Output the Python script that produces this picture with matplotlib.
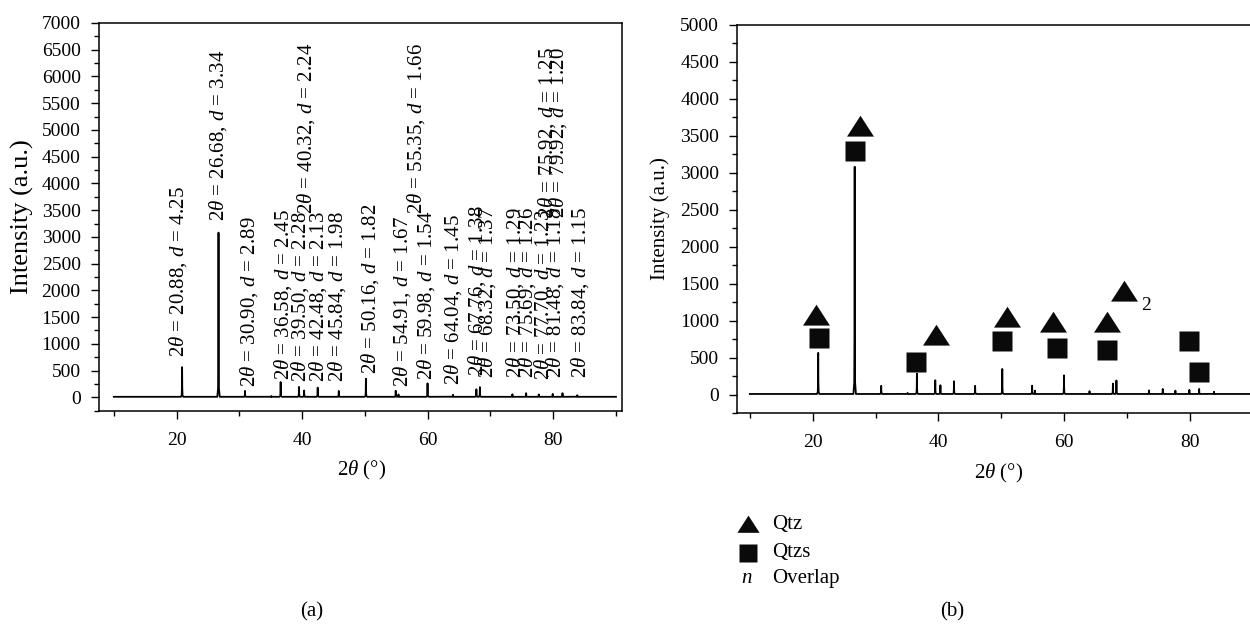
import matplotlib
matplotlib.use("Agg")
import matplotlib.pyplot as plt
from matplotlib.lines import Line2D
from matplotlib.ticker import MultipleLocator, AutoMinorLocator

plt.rcParams['font.family'] = 'serif'
plt.rcParams['font.serif'] = ['Liberation Serif', 'DejaVu Serif']
plt.rcParams['mathtext.fontset'] = 'custom'
plt.rcParams['mathtext.rm'] = 'Liberation Serif'
plt.rcParams['mathtext.it'] = 'Liberation Serif:italic'

# ------------------------------------------------------------
# XRD pattern: peak positions (2theta, deg) and intensities (a.u.)
# ------------------------------------------------------------
scan_start, scan_end = 10.0, 90.0
baseline = 10
peak_2theta = [20.88, 26.68, 30.90, 35.10, 36.58, 39.50, 40.32, 42.48, 45.84,
               50.16, 54.91, 55.35, 59.98, 64.04, 67.76, 68.32, 73.50, 75.69,
               77.70, 79.92, 81.48, 83.84]
peak_int = [565, 3080, 120, 25, 285, 195, 128, 182, 120,
            348, 122, 55, 262, 48, 150, 192, 58, 78,
            55, 65, 78, 40]

# indexed reflections (a): 2theta, d-spacing, label position
label_2theta = ['20.88', '26.68', '30.90', '36.58', '39.50', '40.32', '42.48',
                '45.84', '50.16', '54.91', '55.35', '59.98', '64.04', '67.76',
                '68.32', '73.50', '75.69', '75.92', '77.70', '79.92', '81.48',
                '83.84']
label_d = ['4.25', '3.34', '2.89', '2.45', '2.28', '2.24', '2.13',
           '1.98', '1.82', '1.67', '1.66', '1.54', '1.45', '1.38',
           '1.37', '1.29', '1.26', '1.25', '1.23', '1.20', '1.18',
           '1.15']
label_x = [20.3, 26.68, 31.5, 36.9, 39.7, 40.6, 42.5,
           45.6, 50.9, 55.9, 58.1, 59.8, 64.0, 67.8,
           69.4, 73.9, 75.8, 79.0, 78.4, 80.8, 80.3,
           84.3]
label_y = [760, 3290, 200, 330, 280, 3420, 280,
           290, 430, 200, 3430, 330, 240, 390,
           370, 370, 370, 3350, 330, 3360, 370,
           370]

# phase markers (b)
qtz_x = [20.6, 27.6, 39.6, 50.85, 58.15, 66.75, 69.5]
qtz_y = [1077, 3628, 807, 1055, 988, 978, 1395]
qtzs_x = [20.95, 26.8, 36.5, 50.16, 58.9, 66.8, 79.84, 81.4]
qtzs_y = [762, 3292, 440, 724, 629, 600, 724, 305]
overlap_x, overlap_y, overlap_n = 73.0, 1200, '2'

# peak outline used to draw each reflection
PROFILE_DX = [-0.2, -0.07, -0.025, 0.0, 0.025, 0.07, 0.2]
PROFILE_FRAC = [0.0, 0.05, 0.3, 1.0, 0.3, 0.05, 0.0]


def build_trace():
    xs, ys = [scan_start], [baseline]
    for p, h in zip(peak_2theta, peak_int):
        for dx, f in zip(PROFILE_DX, PROFILE_FRAC):
            xs.append(p + dx)
            ys.append(baseline + (h - baseline) * f)
    xs.append(scan_end)
    ys.append(baseline)
    return xs, ys


def style_axes(ax, ymax, ylabel_size):
    ax.set_ylim(-250, ymax)
    ax.yaxis.set_major_locator(MultipleLocator(500))
    ax.yaxis.set_minor_locator(AutoMinorLocator(2))
    ax.xaxis.set_major_locator(MultipleLocator(20))
    ax.xaxis.set_minor_locator(AutoMinorLocator(2))
    ax.tick_params(which='both', direction='out', top=False, right=False,
                   labelsize=14, width=1.0)
    ax.tick_params(which='major', length=6)
    ax.tick_params(which='minor', length=3.5)
    ax.tick_params(axis='y', pad=7)
    ax.tick_params(axis='x', pad=9)
    for s in ax.spines.values():
        s.set_linewidth(1.1)
    ax.set_xlabel(r'$2\theta$ (°)', fontsize=15)
    ax.set_ylabel('Intensity (a.u.)', fontsize=ylabel_size)
    ax.xaxis.label.set_va('center')
    ax.yaxis.label.set_va('center')


tri_marker = [(-1, -0.75), (1, -0.75), (0, 0.8)]
mark_color = '#0a0a0a'

fig = plt.figure(figsize=(12.5, 6.28), dpi=100)
ax1 = fig.add_axes([0.079, 0.346, 0.4183, 0.6174])
ax2 = fig.add_axes([0.5898, 0.342, 0.4174, 0.6188])

tx, ty = build_trace()

# (a) pattern with d-spacing labels
ax1.plot(tx, ty, color='black', lw=1.3)
style_axes(ax1, 7000, 19)
ax1.set_xlim(7.6, 90.9)
ax1.xaxis.set_label_coords(0.503, -0.153)
ax1.yaxis.set_label_coords(-0.145, 0.5)
for tt, d, x, y in zip(label_2theta, label_d, label_x, label_y):
    ax1.text(x, y, r'$2\theta$ = ' + tt + r', $d$ = ' + d, rotation=90,
             ha='center', va='bottom', fontsize=15)

# (b) pattern with phase identification
ax2.plot(tx, ty, color='black', lw=1.3)
style_axes(ax2, 5000, 15)
ax2.set_xlim(8.0, 91.0)
ax2.xaxis.set_label_coords(0.5, -0.154)
ax2.yaxis.set_label_coords(-0.148, 0.5)
ax2.plot(qtz_x, qtz_y, ls='none', marker=tri_marker, ms=19.4,
         color=mark_color, mec='none', clip_on=False)
ax2.plot(qtzs_x, qtzs_y, ls='none', marker='s', ms=14.4,
         color=mark_color, mec='none', clip_on=False)
ax2.text(overlap_x, overlap_y, overlap_n, fontsize=14, ha='center', va='center')

# phase key below panel (b)
key_items = [(tri_marker, 16, 'Qtz', 0.1656),
             ('s', 13.5, 'Qtzs', 0.1200)]
for marker, ms, name, yf in key_items:
    fig.add_artist(Line2D([0.5985], [yf], transform=fig.transFigure,
                          marker=marker, ms=ms, color=mark_color, mec='none'))
    fig.text(0.6174, yf, name, fontsize=15, va='center', ha='left')
fig.text(0.5976, 0.0796, r'$n$', fontsize=15, va='center', ha='center')
fig.text(0.6174, 0.0796, 'Overlap', fontsize=15, va='center', ha='left')

fig.text(0.249, 0.025, '(a)', fontsize=15, ha='center', va='center')
fig.text(0.7614, 0.025, '(b)', fontsize=15, ha='center', va='center')

fig.savefig('out.png', dpi=100)
